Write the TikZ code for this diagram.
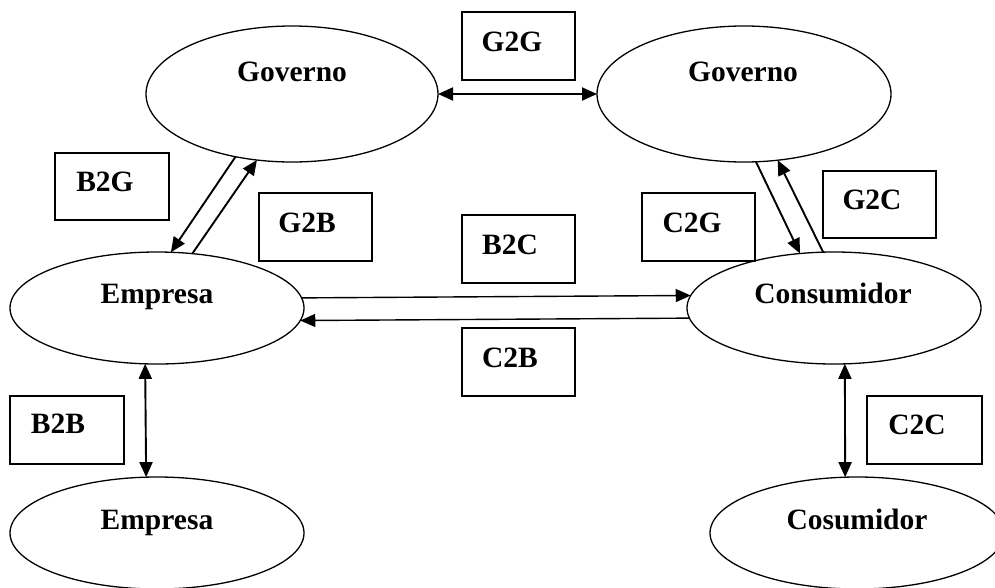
\documentclass[tikz,border=0pt]{standalone}
\usepackage{fontspec}
\setmainfont{Liberation Serif}
\usetikzlibrary{arrows.meta,shapes.geometric}
\tikzset{
  party/.style={draw, ellipse, line width=1.3pt, inner sep=0pt, outer sep=0pt},
  tagbox/.style={draw, line width=1.7pt},
  lbl/.style={anchor=base, inner sep=0pt, font=\fontsize{29.5}{32}\selectfont\bfseries},
  tip/.tip={Triangle[length=15pt,width=13pt]},
  flow/.style={line width=1.9pt, -tip},
  twoway/.style={line width=1.9pt, tip-tip},
  thinflow/.style={line width=1.4pt, -tip}
}
\begin{document}
\begin{tikzpicture}[x=1pt,y=-1pt]
\clip (0,0) rectangle (995,587);
\fill[white] (0,0) rectangle (995,587);

% the six parties
\node[party, minimum width=292pt, minimum height=136pt] (gov1) at (292,94) {};
\node[party, minimum width=294pt, minimum height=136pt] (gov2) at (744,94) {};
\node[party, minimum width=294pt, minimum height=112pt] (emp1) at (157,308) {};
\node[party, minimum width=294pt, minimum height=112pt] (cons) at (834,308) {};
\node[party, minimum width=294pt, minimum height=112pt] (emp2) at (157,533) {};
\node[party, minimum width=294pt, minimum height=112pt] (cons2) at (857,533) {};

\node[lbl] (gov1t) at (292,81) {Governo};
\node[lbl] (gov2t) at (743,81) {Governo};
\node[lbl] (emp1t) at (157,303) {Empresa};
\node[lbl] (const) at (833,303) {Consumidor};
\node[lbl] (emp2t) at (157,529) {Empresa};
\node[lbl] (cons2t) at (857,529) {Cosumidor};

% relation tags
\draw[tagbox] (462,12) rectangle (575,80);
\node[lbl] (g2g) at (512,51) {G2G};
\draw[tagbox] (55,153) rectangle (169,220);
\node[lbl] (b2g) at (105,191) {B2G};
\draw[tagbox] (259,193) rectangle (372,261);
\node[lbl] (g2b) at (307,232) {G2B};
\draw[tagbox] (462,215) rectangle (575,283);
\node[lbl] (b2c) at (510,254) {B2C};
\draw[tagbox] (642,193) rectangle (755,261);
\node[lbl] (c2g) at (692,232) {C2G};
\draw[tagbox] (823,171) rectangle (936,238);
\node[lbl] (g2c) at (872,209) {G2C};
\draw[tagbox] (462,328) rectangle (575,396);
\node[lbl] (c2b) at (510,367) {C2B};
\draw[tagbox] (10,396) rectangle (124,464);
\node[lbl] (b2b) at (58,433) {B2B};
\draw[tagbox] (867,396) rectangle (982,464);
\node[lbl] (c2c) at (917,434) {C2C};

% connectors
\draw[twoway] (gov1.east) -- (gov2.west);
\draw[flow] (gov1.228.3) -- (emp1.76.9);
\draw[flow] (emp1.57.2) -- (gov1.242.8);
\draw[flow] (gov2.280.0) -- (cons.122.0);
\draw[flow] (cons.101.2) -- (gov2.297.2);
\draw[thinflow] (emp1.4.4) -- (cons.175.6);
\draw[thinflow] (cons.184.4) -- (emp1.355.6);
\draw[twoway] (emp1.258.8) -- (emp2.101.2);
\draw[twoway] (cons.281.2) -- (cons2.102.1);
\end{tikzpicture}
\end{document}
